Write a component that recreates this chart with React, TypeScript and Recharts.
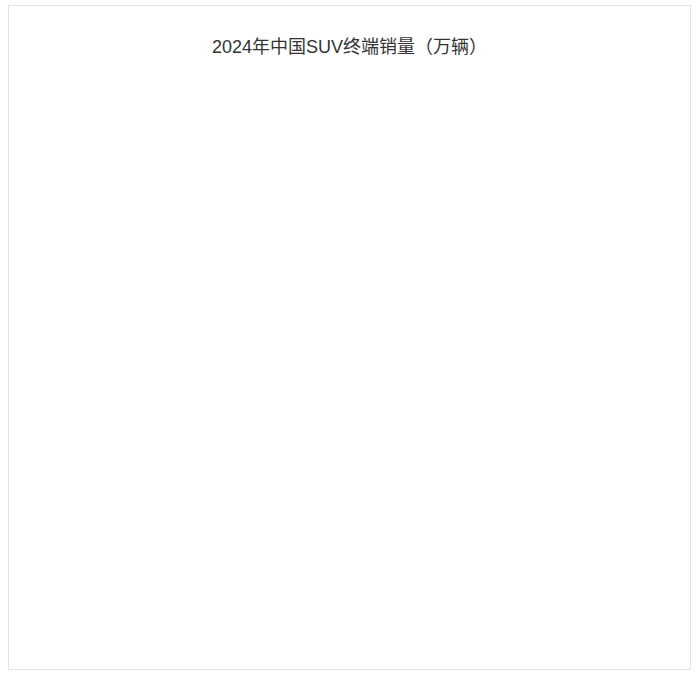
import React from "react";
import { BarChart, Bar, XAxis, YAxis } from "recharts";

// Everything below the title in the reference is covered by a dotted overlay,
// so no categories or values can be read. These are left empty on purpose
// rather than invented.
const TITLE = "2024年中国SUV终端销量（万辆）";
const categories: string[] = [];
const salesValues: number[] = [];

const rows = categories.map((name, i) => ({ name, value: salesValues[i] }));

export default function App() {
  return (
    <div
      style={{
        position: "absolute",
        left: 8,
        top: 5,
        width: 683,
        height: 665,
        border: "1px solid #e3e3e3",
        background: "#fff",
        fontFamily: "'Liberation Sans', 'Noto Sans CJK SC', sans-serif",
        boxSizing: "border-box",
      }}
    >
      <div
        style={{
          position: "absolute",
          top: 28,
          left: 0,
          width: "100%",
          textAlign: "center",
          fontSize: 18,
          color: "#333",
          lineHeight: "26px",
        }}
      >
        {TITLE}
      </div>
      <div style={{ position: "absolute", top: 70, left: 0 }}>
        <BarChart width={680} height={590} data={rows}>
          <XAxis dataKey="name" hide />
          <YAxis hide />
          <Bar dataKey="value" fill="#5470c6" isAnimationActive={false} />
        </BarChart>
      </div>
    </div>
  );
}
